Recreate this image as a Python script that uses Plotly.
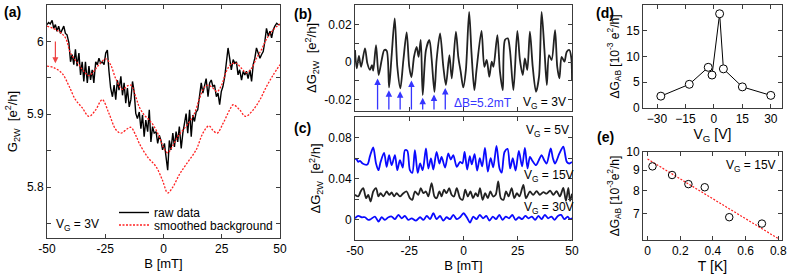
import plotly.graph_objects as go

# ---------------- panel (a) ----------------
B_a = [-50.0, -49.3, -48.6, -47.8, -47.1, -46.4, -45.7, -45.0, -44.2, -43.5,
       -42.8, -42.1, -41.4, -40.6, -39.9, -39.2, -38.5, -37.8, -37.1, -36.3,
       -35.6, -34.9, -34.2, -33.5, -32.7, -32.0, -31.3, -30.6, -29.9, -29.1,
       -28.4, -27.7, -27.0, -26.3, -25.5, -24.8, -24.1, -23.4, -22.7, -21.9,
       -21.2, -20.5, -19.8, -19.1, -18.3, -17.6, -16.9, -16.2, -15.5, -14.7,
       -14.0, -13.3, -12.6, -11.9, -11.2, -10.4, -9.7, -9.0, -8.3, -7.6,
       -6.8, -6.1, -5.4, -4.7, -4.0, -3.2, -2.5, -1.8, -1.1, -0.4,
       0.4, 1.1, 1.8, 2.5, 3.2, 4.0, 4.7, 5.4, 6.1, 6.8,
       7.6, 8.3, 9.0, 9.7, 10.4, 11.2, 11.9, 12.6, 13.3, 14.0,
       14.7, 15.5, 16.2, 16.9, 17.6, 18.3, 19.1, 19.8, 20.5, 21.2,
       21.9, 22.7, 23.4, 24.1, 24.8, 25.5, 26.3, 27.0, 27.7, 28.4,
       29.1, 29.9, 30.6, 31.3, 32.0, 32.7, 33.5, 34.2, 34.9, 35.6,
       36.3, 37.1, 37.8, 38.5, 39.2, 39.9, 40.6, 41.4, 42.1, 42.8,
       43.5, 44.2, 45.0, 45.7, 46.4, 47.1, 47.8, 48.6, 49.3, 50.0]
G_raw = [6.023, 6.026, 6.024, 6.029, 6.018, 6.023, 6.014, 6.021, 6.011, 6.016,
         6.021, 6.011, 6.009, 5.998, 5.972, 5.982, 5.968, 5.989, 5.966, 5.984,
         5.954, 5.972, 5.945, 5.972, 5.943, 5.966, 5.947, 5.961, 5.943, 5.972,
         5.968, 5.977, 5.970, 5.972, 5.968, 5.984, 5.988, 5.959, 5.936, 5.924,
         5.940, 5.920, 5.947, 5.933, 5.952, 5.926, 5.943, 5.915, 5.936, 5.910,
         5.920, 5.945, 5.931, 5.901, 5.894, 5.903, 5.880, 5.899, 5.869, 5.892,
         5.876, 5.906, 5.862, 5.883, 5.874, 5.876, 5.860, 5.871, 5.864, 5.851,
         5.860, 5.841, 5.823, 5.864, 5.851, 5.874, 5.855, 5.876, 5.862, 5.883,
         5.853, 5.874, 5.885, 5.901, 5.874, 5.906, 5.869, 5.899, 5.890, 5.903,
         5.906, 5.924, 5.943, 5.929, 5.938, 5.949, 5.924, 5.943, 5.947, 5.938,
         5.940, 5.924, 5.929, 5.913, 5.931, 5.938, 5.952, 5.977, 5.991, 5.977,
         5.961, 5.975, 5.970, 5.972, 5.954, 5.961, 5.947, 5.959, 5.954, 5.959,
         5.949, 5.961, 5.945, 5.968, 5.977, 5.991, 5.984, 5.977, 5.982, 5.986,
         6.000, 6.018, 6.007, 6.014, 6.005, 6.016, 6.021, 6.025, 6.023, 6.023]

B_smooth = [-50.0, -45.0, -42.1, -39.9, -36.3, -34.2, -32.0, -29.9, -27.7, -24.8,
            -22.7, -20.5, -17.6, -15.5, -14.0, -11.9, -10.4, -8.3, -6.1, -4.0,
            -1.8, -0.1, 1.8, 4.0, 6.1, 8.3, 11.2, 13.3, 15.5, 17.6,
            19.1, 21.2, 23.0, 24.8, 27.0, 29.1, 31.3, 33.5, 35.6, 37.8,
            39.9, 42.1, 44.2, 47.1, 50.0]
G_smooth = [6.021, 6.014, 6.005, 5.984, 5.968, 5.959, 5.953, 5.959, 5.968, 5.976,
            5.968, 5.949, 5.934, 5.939, 5.940, 5.924, 5.910, 5.899, 5.892, 5.883,
            5.869, 5.855, 5.847, 5.857, 5.869, 5.878, 5.890, 5.901, 5.922, 5.937,
            5.940, 5.936, 5.931, 5.939, 5.959, 5.969, 5.970, 5.963, 5.957, 5.963,
            5.977, 5.989, 6.003, 6.016, 6.024]

B_shift = [-50.0, -47.1, -43.5, -40.6, -37.8, -34.9, -32.0, -29.1, -26.3, -23.4,
           -20.5, -18.3, -15.5, -14.0, -11.9, -10.4, -6.8, -3.2, -0.4, 1.8,
           4.0, 6.8, 9.7, 14.0, 16.9, 19.5, 21.2, 23.0, 25.5, 28.4,
           29.9, 32.7, 35.2, 38.5, 41.4, 44.2, 47.1, 50.0]
G_shift = [5.966, 5.964, 5.956, 5.939, 5.920, 5.909, 5.897, 5.906, 5.920, 5.901,
           5.879, 5.874, 5.880, 5.882, 5.871, 5.860, 5.841, 5.828, 5.809, 5.792,
           5.800, 5.817, 5.831, 5.851, 5.874, 5.884, 5.878, 5.874, 5.887, 5.906,
           5.913, 5.906, 5.897, 5.906, 5.920, 5.938, 5.954, 5.968]

arrow_a_B = -46.4
arrow_a_from = 6.002
arrow_a_to = 5.970

# ---------------- panel (b) ----------------
B_b = [-50.0, -49.2, -48.2, -47.2, -45.4, -44.3, -43.1, -42.2, -41.6, -40.3,
       -39.1, -37.7, -36.5, -35.4, -34.3, -33.1, -31.7, -30.5, -29.1, -27.7,
       -26.2, -25.0, -24.0, -22.8, -21.6, -20.7, -19.7, -18.8, -17.3, -15.7,
       -14.7, -13.4, -12.4, -10.8, -9.3, -8.1, -6.5, -5.4, -3.5, -2.4,
       -1.3, -0.1, 1.1, 2.6, 3.7, 5.0, 6.0, 8.3, 9.6, 10.7,
       11.9, 13.0, 13.8, 15.6, 16.8, 18.1, 19.1, 20.4, 21.4, 23.0,
       24.8, 26.0, 27.3, 28.3, 29.4, 30.6, 31.9, 33.4, 34.8, 36.0,
       37.3, 38.4, 39.4, 40.6, 42.2, 43.2, 44.2, 45.2, 46.5, 47.6,
       48.8, 49.7, 50.0]
dG_b = [0.0064, -0.0034, 0.0032, -0.0025, 0.0073, -0.0007, -0.0042, -0.0016, -0.0046, 0.0090,
        -0.0069, 0.0011, 0.0064, 0.0060, -0.0135, 0.0037, 0.0232, -0.0025, -0.0140, 0.0011,
        0.0158, -0.0025, -0.0081, 0.0028, 0.0081, 0.0028, 0.0117, -0.0175, 0.0064, 0.0117,
        0.0019, -0.0158, 0.0011, 0.0152, -0.0025, -0.0122, 0.0037, -0.0087, 0.0161, 0.0028,
        -0.0051, -0.0135, -0.0042, 0.0267, 0.0046, -0.0149, -0.0042, 0.0166, -0.0025, 0.0011,
        -0.0078, 0.0002, -0.0025, 0.0143, -0.0051, -0.0149, 0.0117, 0.0126, 0.0064, -0.0149,
        0.0166, 0.0011, -0.0069, 0.0019, -0.0042, 0.0161, -0.0025, -0.0158, -0.0078, 0.0267,
        0.0064, -0.0122, 0.0037, 0.0011, 0.0170, -0.0025, -0.0087, 0.0028, 0.0002, 0.0055,
        0.0064, 0.0019, -0.0096]
arrows_b_B = [-39.6, -34.4, -29.2, -24.0, -18.8, -13.6, -8.4]
arrows_b_tip = [-0.0088, -0.0150, -0.0155, -0.0098, -0.0190, -0.0172, -0.0138]

# ---------------- panel (c) ----------------
B_c5 = [-50.0, -49.2, -48.5, -47.7, -46.5, -44.3, -43.1, -41.6, -40.3, -39.2,
        -38.2, -36.6, -35.4, -34.3, -33.1, -31.6, -30.5, -29.3, -28.0, -27.0,
        -25.9, -24.7, -23.6, -22.4, -21.1, -20.0, -18.8, -17.3, -16.2, -15.0,
        -13.9, -12.4, -11.1, -10.1, -8.5, -7.0, -5.9, -4.7, -3.1, -1.6,
        -0.5, 0.5, 1.7, 2.9, 3.8, 5.1, 6.3, 7.5, 8.6, 9.9,
        11.2, 12.5, 13.7, 15.2, 16.6, 17.6, 18.9, 20.3, 21.5, 22.7,
        24.0, 25.5, 27.0, 28.3, 29.5, 30.6, 31.6, 33.4, 34.7, 36.0,
        37.2, 38.3, 40.2, 41.2, 42.2, 44.2, 46.0, 47.6, 48.8, 50.0]
dG_c5 = [0.0597, 0.0587, 0.0564, 0.0574, 0.0548, 0.0538, 0.0620, 0.0704, 0.0548, 0.0483,
         0.0564, 0.0652, 0.0515, 0.0629, 0.0532, 0.0629, 0.0483, 0.0580, 0.0509, 0.0678,
         0.0672, 0.0483, 0.0457, 0.0678, 0.0457, 0.0548, 0.0483, 0.0694, 0.0499, 0.0597,
         0.0489, 0.0662, 0.0548, 0.0613, 0.0509, 0.0646, 0.0587, 0.0629, 0.0515, 0.0564,
         0.0550, 0.0660, 0.0490, 0.0620, 0.0540, 0.0640, 0.0480, 0.0600, 0.0520, 0.0700,
         0.0470, 0.0600, 0.0510, 0.0720, 0.0500, 0.0460, 0.0660, 0.0690, 0.0500, 0.0600,
         0.0480, 0.0670, 0.0520, 0.0700, 0.0500, 0.0613, 0.0580, 0.0532, 0.0580, 0.0629,
         0.0580, 0.0548, 0.0694, 0.0600, 0.0548, 0.0646, 0.0711, 0.0564, 0.0548, 0.0564]

B_c15 = [-50.0, -48.5, -47.4, -46.2, -44.9, -43.9, -42.8, -41.6, -40.3, -39.2,
         -38.2, -36.9, -35.4, -34.2, -33.1, -32.0, -30.8, -29.3, -27.7, -26.2,
         -24.7, -23.6, -22.4, -20.8, -19.7, -18.5, -17.3, -16.2, -14.7, -13.4,
         -12.4, -11.1, -10.1, -9.0, -7.8, -6.6, -5.5, -4.4, -3.1, -1.6,
         -0.4, 0.8, 2.0, 3.2, 4.4, 5.6, 6.6, 7.6, 8.8, 10.0,
         11.2, 12.4, 13.6, 14.8, 16.0, 17.2, 18.4, 19.6, 20.8, 22.2,
         23.4, 24.6, 25.8, 27.6, 28.8, 30.6, 32.1, 33.7, 35.2, 36.8,
         38.3, 39.9, 41.4, 42.9, 44.4, 46.0, 47.2, 48.3, 49.1, 50.0]
dG_c15 = [0.0244, 0.0228, 0.0276, 0.0309, 0.0211, 0.0244, 0.0179, 0.0276, 0.0309, 0.0228,
          0.0260, 0.0228, 0.0276, 0.0244, 0.0267, 0.0228, 0.0260, 0.0228, 0.0260, 0.0276,
          0.0211, 0.0195, 0.0276, 0.0244, 0.0309, 0.0260, 0.0276, 0.0228, 0.0358, 0.0228,
          0.0211, 0.0276, 0.0228, 0.0293, 0.0260, 0.0309, 0.0244, 0.0228, 0.0309, 0.0211,
          0.0195, 0.0293, 0.0228, 0.0276, 0.0211, 0.0260, 0.0228, 0.0309, 0.0195, 0.0260,
          0.0211, 0.0276, 0.0228, 0.0244, 0.0374, 0.0211, 0.0195, 0.0276, 0.0228, 0.0309,
          0.0211, 0.0260, 0.0228, 0.0341, 0.0211, 0.0276, 0.0244, 0.0280, 0.0244, 0.0270,
          0.0255, 0.0285, 0.0244, 0.0280, 0.0228, 0.0310, 0.0185, 0.0310, 0.0185, 0.0255]

B_c30 = [-50.0, -48.5, -46.9, -45.4, -43.9, -42.8, -40.8, -39.2, -37.7, -36.2,
         -34.6, -33.1, -31.6, -30.0, -28.5, -27.0, -25.4, -23.9, -21.9, -20.0,
         -18.5, -16.9, -15.4, -13.9, -12.4, -10.8, -9.3, -7.8, -6.2, -4.7,
         -3.1, -1.6, 0.0, 1.5, 3.0, 4.5, 6.0, 7.5, 9.0, 10.5,
         12.0, 13.5, 15.0, 16.5, 18.0, 19.5, 21.0, 22.5, 24.0, 25.5,
         27.0, 28.5, 30.0, 31.5, 33.0, 34.5, 36.0, 37.5, 39.0, 40.5,
         42.0, 43.5, 45.0, 46.5, 48.0, 49.0, 50.0]
dG_c30 = [0.0016, 0.0039, 0.0026, 0.0026, 0.0000, 0.0007, 0.0033, -0.0016, 0.0026, 0.0000,
          0.0026, 0.0033, 0.0007, 0.0049, 0.0016, 0.0039, 0.0000, 0.0016, -0.0007, 0.0026,
          0.0000, 0.0039, 0.0007, 0.0065, 0.0007, 0.0039, -0.0007, 0.0026, 0.0007, 0.0049,
          0.0007, 0.0026, 0.0065, 0.0026, -0.0026, 0.0033, 0.0007, 0.0049, 0.0016, 0.0039,
          -0.0007, 0.0033, 0.0007, 0.0049, 0.0000, 0.0033, 0.0016, 0.0049, 0.0000, 0.0026,
          0.0007, 0.0039, 0.0016, 0.0033, 0.0000, 0.0039, 0.0007, 0.0049, 0.0016, 0.0033,
          0.0000, 0.0039, 0.0049, 0.0007, 0.0033, 0.0007, 0.0016]

# ---------------- panel (d) ----------------
VG_d = [-28, -13, -3, -1, 3, 5, 15, 30]
dGAB_d = [2.3, 4.6, 7.9, 6.4, 18.3, 7.6, 4.1, 2.45]

# ---------------- panel (e) ----------------
T_e = [0.03, 0.15, 0.25, 0.35, 0.5, 0.7]
dGAB_e = [9.2, 8.75, 8.3, 8.15, 6.85, 6.6]
T_fit = [0.0, 0.8]
dGAB_fit = [9.6, 6.05]

# ticks and tick labels
a_yticks = [5.8, 5.9, 6.0]
a_yticktext = ["5.8", "5.9", "6"]
a_yminor = [5.75, 5.85, 5.95, 6.05]
B_ticks = [-50, -25, 0, 25, 50]
B_ticktext = ["-50", "-25", "0", "25", "50"]
b_yticks = [-0.02, 0, 0.02]
b_yticktext = ["-0.02", "0", "0.02"]
b_yminor = [-0.01, 0.01, 0.03]
c_yticks = [0, 0.04, 0.08]
c_yticktext = ["0", "0.04", "0.08"]
c_yminor = [0.02, 0.06, 0.10]
d_xticks = [-30, -15, 0, 15, 30]
d_yticks = [0, 5, 10, 15, 20]
e_xticks = [0, 0.2, 0.4, 0.6, 0.8]
e_xticktext = ["0", "0.2", "0.4", "0.6", "0.8"]
e_yticks = [6, 7, 8, 9, 10]
e_yticktext = ["6", "7", "8", "9", "10"]

W, H = 789, 274
FONT = "Arial, Liberation Sans, sans-serif"
AXC = "#3c3c3c"
BLUE = "#0a0aff"
ARROW_BLUE = "#3535ff"
RED = "#ff2020"
RED_DOT = "2px,1.5px"


def px_x(p):
    return p / W


def px_y(p):
    return 1 - p / H


def axis(**kw):
    d = dict(showline=True, linecolor=AXC, linewidth=1, mirror="allticks",
             ticks="inside", ticklen=4, tickcolor=AXC, tickwidth=1,
             showgrid=False, zeroline=False, automargin=False,
             tickfont=dict(size=12, color="black", family=FONT),
             title_font=dict(size=13, color="black", family=FONT))
    d.update(kw)
    return d


def minor(vals):
    return dict(tickmode="array", tickvals=vals, ticks="inside", ticklen=4,
                tickcolor=AXC, tickwidth=1, showgrid=False)


fig = go.Figure()

# (a)
fig.add_trace(go.Scatter(x=B_a, y=G_raw, mode="lines", name="raw data",
                         line=dict(color="black", width=1.4), xaxis="x", yaxis="y",
                         legend="legend"))
fig.add_trace(go.Scatter(x=B_smooth, y=G_smooth, mode="lines", name="smoothed background",
                         line=dict(color=RED, width=1.3, dash=RED_DOT, shape="spline", smoothing=1.0),
                         xaxis="x", yaxis="y", legend="legend2"))
fig.add_trace(go.Scatter(x=B_shift, y=G_shift, mode="lines", showlegend=False,
                         line=dict(color=RED, width=1.3, dash=RED_DOT, shape="spline", smoothing=1.0),
                         xaxis="x", yaxis="y"))
# (b)
fig.add_trace(go.Scatter(x=B_b, y=dG_b, mode="lines", showlegend=False,
                         line=dict(color="#222222", width=1.8, shape="spline", smoothing=0.8),
                         xaxis="x2", yaxis="y2"))
# (c)
fig.add_trace(go.Scatter(x=B_c5, y=dG_c5, mode="lines", showlegend=False,
                         line=dict(color=BLUE, width=1.8, shape="spline", smoothing=0.8),
                         xaxis="x3", yaxis="y3"))
fig.add_trace(go.Scatter(x=B_c15, y=dG_c15, mode="lines", showlegend=False,
                         line=dict(color="#222222", width=1.8, shape="spline", smoothing=0.8),
                         xaxis="x3", yaxis="y3"))
fig.add_trace(go.Scatter(x=B_c30, y=dG_c30, mode="lines", showlegend=False,
                         line=dict(color=BLUE, width=1.8, shape="spline", smoothing=0.8),
                         xaxis="x3", yaxis="y3"))
# (d)
fig.add_trace(go.Scatter(x=VG_d, y=dGAB_d, mode="lines+markers", showlegend=False,
                         line=dict(color="black", width=1),
                         marker=dict(symbol="circle", size=8, color="white",
                                     line=dict(color="black", width=1)),
                         xaxis="x4", yaxis="y4"))
# (e)
fig.add_trace(go.Scatter(x=T_fit, y=dGAB_fit, mode="lines", showlegend=False,
                         line=dict(color=RED, width=1.2, dash=RED_DOT),
                         xaxis="x5", yaxis="y5"))
fig.add_trace(go.Scatter(x=T_e, y=dGAB_e, mode="markers", showlegend=False,
                         marker=dict(symbol="circle-open", size=7.5, color="black",
                                     line=dict(color="black", width=1)),
                         xaxis="x5", yaxis="y5"))

annotations = []
# panel labels
for lab, xp, yp in [("(a)", 2, 12), ("(b)", 292, 14), ("(c)", 292, 128),
                    ("(d)", 594, 13), ("(e)", 595, 137)]:
    annotations.append(dict(text="<b>%s</b>" % lab, xref="paper", yref="paper",
                            x=px_x(xp), y=px_y(yp), xanchor="left", yanchor="middle",
                            showarrow=False, font=dict(size=14, color="black", family=FONT)))

# (a) arrow and label
annotations.append(dict(x=arrow_a_B, y=arrow_a_to, ax=arrow_a_B, ay=arrow_a_from,
                        xref="x", yref="y", axref="x", ayref="y", text="",
                        showarrow=True, arrowhead=2, arrowsize=1, arrowwidth=1.2,
                        arrowcolor="#ee4444"))
annotations.append(dict(x=-47, y=5.748, xref="x", yref="y", text="V<sub>G</sub> = 3V",
                        xanchor="left", yanchor="middle", showarrow=False,
                        font=dict(size=12, color="black", family=FONT)))
# (b) arrows and labels
for bx, tip in zip(arrows_b_B, arrows_b_tip):
    annotations.append(dict(x=bx, y=tip, ax=bx, ay=-0.026, xref="x2", yref="y2",
                            axref="x2", ayref="y2", text="", showarrow=True,
                            arrowhead=2, arrowsize=1, arrowwidth=1.3,
                            arrowcolor=ARROW_BLUE))
annotations.append(dict(x=-5.3, y=-0.0215, xref="x2", yref="y2", text="ΔB=5.2mT",
                        xanchor="left", yanchor="middle", showarrow=False,
                        font=dict(size=12, color=ARROW_BLUE, family=FONT)))
annotations.append(dict(x=26.5, y=-0.0215, xref="x2", yref="y2", text="V<sub>G</sub> = 3V",
                        xanchor="left", yanchor="middle", showarrow=False,
                        font=dict(size=12, color="black", family=FONT)))
# (c) labels
for txt, bx, yy in [("V<sub>G</sub> = 5V", 28.0, 0.086), ("V<sub>G</sub> = 15V", 26.8, 0.043),
                    ("V<sub>G</sub> = 30V", 26.8, 0.0115)]:
    annotations.append(dict(x=bx, y=yy, xref="x3", yref="y3", text=txt,
                            xanchor="left", yanchor="middle", showarrow=False,
                            font=dict(size=12, color="black", family=FONT)))
# (e) label
annotations.append(dict(x=0.468, y=0.964, xref="x5", yref="y5", text="V<sub>G</sub> = 15V",
                        xanchor="left", yanchor="middle", showarrow=False,
                        font=dict(size=12, color="black", family=FONT)))

leg_common = dict(xanchor="left", yanchor="middle", bgcolor="rgba(0,0,0,0)",
                  font=dict(size=12, family=FONT, color="black"), itemwidth=30,
                  borderwidth=0)

fig.update_layout(
    template="none",
    width=W, height=H, margin=dict(l=0, r=0, t=0, b=0, autoexpand=False),
    paper_bgcolor="white", plot_bgcolor="white",
    font=dict(family=FONT, size=12, color="black"),
    showlegend=True,
    legend=dict(x=px_x(114), y=px_y(212.5), **leg_common),
    legend2=dict(x=px_x(114), y=px_y(225), **leg_common),
    xaxis=axis(domain=[px_x(47), px_x(280)], range=[-50, 50], anchor="y",
               tickvals=B_ticks, ticktext=B_ticktext,
               title=dict(text="B [mT]", standoff=0)),
    yaxis=axis(domain=[px_y(238), px_y(5)], range=[5.73, 6.05], anchor="x",
               tickvals=a_yticks, ticktext=a_yticktext, minor=minor(a_yminor),
               title=dict(text="G<sub>2W</sub>  [e<sup>2</sup>/h]", standoff=6)),
    xaxis2=axis(domain=[px_x(355), px_x(572)], range=[-50, 50], anchor="y2",
                tickvals=B_ticks, showticklabels=False),
    yaxis2=axis(domain=[px_y(111), px_y(5)], range=[-0.026, 0.0303], anchor="x2",
                tickvals=b_yticks, ticktext=b_yticktext, minor=minor(b_yminor),
                title=dict(text="ΔG<sub>2W</sub>  [e<sup>2</sup>/h]", standoff=4)),
    xaxis3=axis(domain=[px_x(355), px_x(572)], range=[-50, 50], anchor="y3",
                tickvals=B_ticks, ticktext=B_ticktext,
                title=dict(text="B [mT]", standoff=0)),
    yaxis3=axis(domain=[px_y(240), px_y(117)], range=[-0.0195, 0.1], anchor="x3",
                tickvals=c_yticks, ticktext=c_yticktext, minor=minor(c_yminor),
                title=dict(text="ΔG<sub>2W</sub>  [e<sup>2</sup>/h]", standoff=4)),
    xaxis4=axis(domain=[px_x(643), px_x(782)], range=[-37.4, 35.9], anchor="y4",
                tickvals=d_xticks,
                title=dict(text="V<sub>G</sub> [V]", standoff=0, font=dict(size=14))),
    yaxis4=axis(domain=[px_y(108), px_y(5)], range=[0, 20], anchor="x4",
                tickvals=d_yticks,
                title=dict(text="ΔG<sub>AB</sub> [10<sup>-3</sup> e<sup>2</sup>/h]", standoff=4,
                           font=dict(size=12))),
    xaxis5=axis(domain=[px_x(643), px_x(782)], range=[-0.028, 0.823], anchor="y5",
                tickvals=e_xticks, ticktext=e_xticktext,
                title=dict(text="T [K]", standoff=0, font=dict(size=14))),
    yaxis5=axis(domain=[px_y(240), px_y(152)], type="log", range=[0.7782, 1.0], anchor="x5",
                tickvals=e_yticks, ticktext=e_yticktext,
                title=dict(text="ΔG<sub>AB</sub> [10<sup>-3</sup>e<sup>2</sup>/h]", standoff=4,
                           font=dict(size=12))),
    annotations=annotations,
)

fig.write_html("out.html",
               config={"displayModeBar": False},
               post_script="document.body.style.margin='0px';"
                           "document.body.style.overflow='hidden';")
